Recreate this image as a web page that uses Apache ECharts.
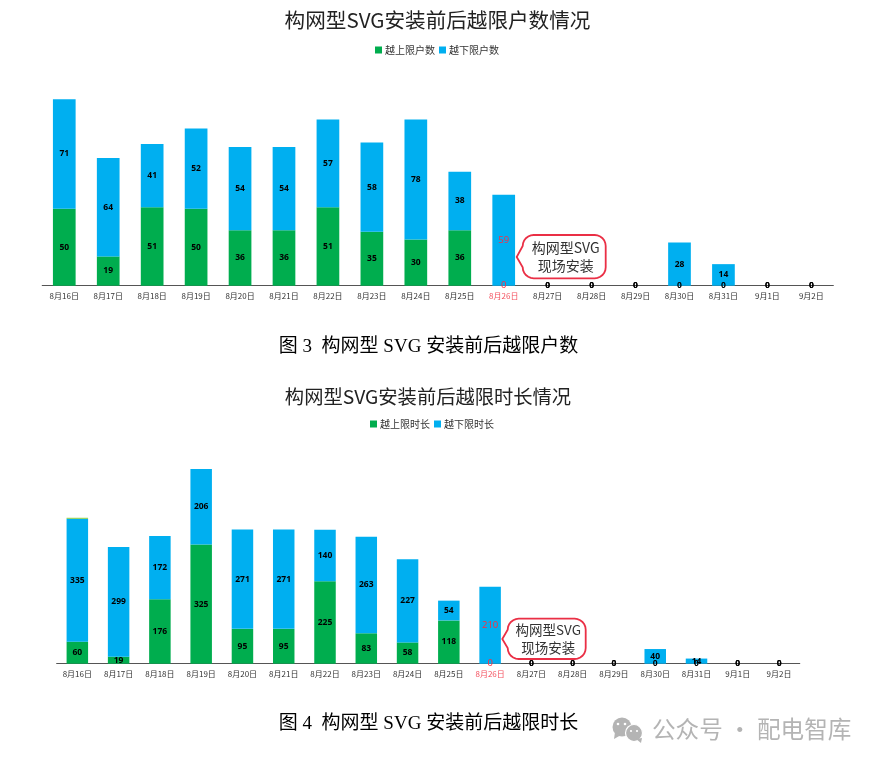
<!DOCTYPE html>
<html>
<head>
<meta charset="utf-8">
<style>
    html, body {margin: 0; padding: 0; background: #fff;}
    #chart {width: 878px; height: 764px;}
</style>
</head>
<body>
<div id="chart"></div>
<script src="https://cdn.jsdelivr.net/npm/echarts@6/dist/echarts.min.js"></script>
<script>
(() => {
    'use strict'

    const days = ['8月16日', '8月17日', '8月18日', '8月19日', '8月20日', '8月21日', '8月22日', '8月23日', '8月24日', '8月25日', '8月26日', '8月27日', '8月28日', '8月29日', '8月30日', '8月31日', '9月1日', '9月2日']

    const userUpper = [50, 19, 51, 50, 36, 36, 51, 35, 30, 36, 0, 0, 0, 0, 0, 0, 0, 0]
    const userLower = [71, 64, 41, 52, 54, 54, 57, 58, 78, 38, 59, 0, 0, 0, 28, 14, 0, 0]

    const timeUpper = [60, 19, 176, 325, 95, 95, 225, 83, 58, 118, 0, 0, 0, 0, 0, 0, 0, 0]
    const timeLower = [335, 299, 172, 206, 271, 271, 140, 263, 227, 54, 210, 0, 0, 0, 40, 14, 0, 0]
    const timeOther = [3, null, null, null, null, null, null, null, null, null, null, null, null, null, null, null, null, null]

    const installDay = '8月26日'

    const GREEN = '#00ad4e'
    const BLUE = '#00aff0'
    const RED = '#ff2b3d'
    const GREY = '#b4b4b4'
    const CJK = '"Noto Sans CJK SC", sans-serif'
    const CAPTION = '"Liberation Serif", ' + CJK

    const barData = values => values.map((value, i) => ({
        value: value,
        label: days[i] === installDay
            ? {color: RED, fontWeight: 'normal', fontSize: 9.5}
            : {color: '#000', fontWeight: 'bold', fontSize: 8.5}
    }))

    const barSeries = (name, values, color, index, width) => ({
        name: name,
        type: 'bar',
        stack: 'total' + index,
        xAxisIndex: index,
        yAxisIndex: index,
        barWidth: width,
        itemStyle: {color: color},
        label: {show: true, position: 'inside', fontFamily: '"Open Sans", sans-serif'},
        data: barData(values)
    })

    const xAxis = index => ({
        type: 'category',
        gridIndex: index,
        data: days,
        axisTick: {show: false},
        axisLine: {lineStyle: {color: '#555', width: 1.2}},
        axisLabel: {
            interval: 0,
            fontSize: 8,
            margin: 6,
            fontFamily: CJK,
            color: value => value === installDay ? '#f4505e' : '#333'
        }
    })

    const yAxis = (index, max) => ({
        type: 'value',
        gridIndex: index,
        show: false,
        min: 0,
        max: max,
        splitLine: {show: false}
    })

    const title = (text, x, y, size, color, family) => ({
        text: text,
        left: x,
        top: y,
        padding: 0,
        textAlign: 'center',
        textStyle: {fontSize: size, fontWeight: 'normal', color: color, fontFamily: family}
    })

    const legend = (names, x, y) => ({
        data: names,
        left: x,
        top: y,
        icon: 'rect',
        itemWidth: 7,
        itemHeight: 7,
        itemGap: 4,
        padding: 0,
        itemStyle: {borderWidth: 0},
        textStyle: {fontSize: 10, color: '#333', fontFamily: CJK, padding: [0, 0, 0, -2]}
    })

    // rounded box outline with a pointer on the left side
    const calloutPoints = (x, y, w, h, r, tipX, tipY) => {
        const points = []
        const corners = [[x + w - r, y + r, -90], [x + w - r, y + h - r, 0], [x + r, y + h - r, 90], [x + r, y + r, 180]]
        corners.forEach(c => {
            for (let a = 0; a <= 90; a += 15) {
                const rad = (c[2] + a) * Math.PI / 180
                points.push([c[0] + r * Math.cos(rad), c[1] + r * Math.sin(rad)])
            }
            if (c[2] === 90) points.push([tipX, tipY])
        })
        return points
    }

    const callout = (x, y, w, h, tipX, tipY, size) => ([
        {
            type: 'polygon',
            shape: {points: calloutPoints(x, y, w, h, 11, tipX, tipY)},
            style: {fill: '#fff', stroke: '#ea2f45', lineWidth: 1.8}
        },
        {
            type: 'text',
            x: x + w / 2 + 1.5,
            y: y + h / 2,
            style: {
                text: '构网型SVG\n现场安装',
                fill: '#333',
                font: size + 'px ' + CJK,
                lineHeight: 18,
                align: 'center',
                verticalAlign: 'middle'
            }
        }
    ])

    const options = {
        animation: false,
        backgroundColor: '#fff',
        title: [
            title('构网型SVG安装前后越限户数情况', 437.5, 10, 20.6, '#222', CJK),
            title('构网型SVG安装前后越限时长情况', 428, 387, 19.3, '#222', CJK),
            title('图 3  构网型 SVG 安装前后越限户数', 428.5, 338, 19, '#000', CAPTION),
            title('图 4  构网型 SVG 安装前后越限时长', 428.5, 715, 19, '#000', CAPTION)
        ],
        legend: [
            legend(['越上限户数', '越下限户数'], 375, 45),
            legend(['越上限时长', '越下限时长'], 370, 419)
        ],
        grid: [
            {left: 42.3, width: 791, top: 70.1, height: 215.6},
            {left: 56.7, width: 743, top: 443.7, height: 220}
        ],
        xAxis: [xAxis(0), xAxis(1)],
        yAxis: [yAxis(0, 140), yAxis(1, 600)],
        series: [
            barSeries('越上限户数', userUpper, GREEN, 0, 22.7),
            barSeries('越下限户数', userLower, BLUE, 0, 22.7),
            barSeries('越上限时长', timeUpper, GREEN, 1, 21.5),
            barSeries('越下限时长', timeLower, BLUE, 1, 21.5),
            {
                name: '其他',
                type: 'bar',
                stack: 'total1',
                xAxisIndex: 1,
                yAxisIndex: 1,
                barWidth: 21.5,
                itemStyle: {color: '#92d050'},
                data: timeOther
            }
        ],
        graphic: [
            ...callout(522.7, 235, 83, 43.3, 516.7, 257, 14),
            ...callout(507.7, 618.7, 78, 40.3, 502.3, 639, 13.5),
            // watermark logo
            {type: 'circle', shape: {cx: 622, cy: 727, r: 9.5}, style: {fill: GREY}},
            {type: 'polygon', shape: {points: [[615, 732], [614, 739], [621, 735]]}, style: {fill: GREY}},
            {type: 'circle', shape: {cx: 634, cy: 733, r: 8.5}, style: {fill: GREY, stroke: '#fff', lineWidth: 1.2}},
            {type: 'polygon', shape: {points: [[636, 739], [642, 738], [641, 743]]}, style: {fill: GREY}},
            {type: 'circle', shape: {cx: 618, cy: 724, r: 1.3}, style: {fill: '#fff'}},
            {type: 'circle', shape: {cx: 625, cy: 724, r: 1.3}, style: {fill: '#fff'}},
            {type: 'circle', shape: {cx: 631, cy: 731, r: 1.1}, style: {fill: '#fff'}},
            {type: 'circle', shape: {cx: 637, cy: 731, r: 1.1}, style: {fill: '#fff'}},
            {
                type: 'text',
                x: 652,
                y: 729,
                style: {
                    text: '公众号 · 配电智库',
                    fill: GREY,
                    font: '23.6px ' + CJK,
                    verticalAlign: 'middle'
                }
            }
        ]
    }

    const chart = echarts.init(document.getElementById('chart'))
    chart.setOption(options)
})()
</script>
</body>
</html>
